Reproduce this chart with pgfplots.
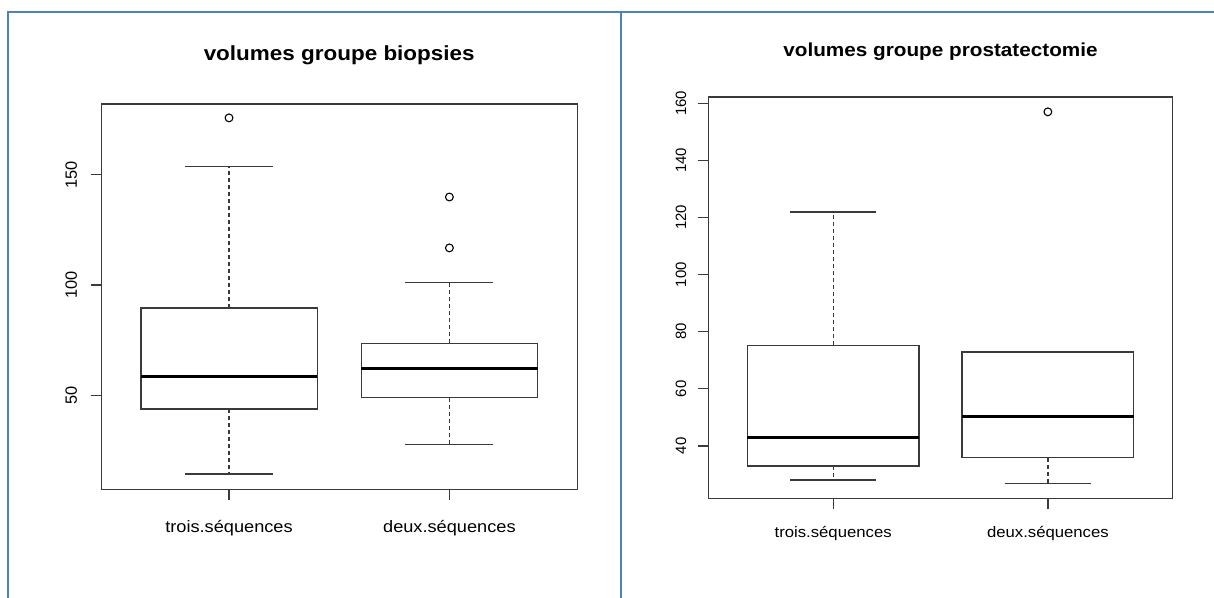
\documentclass[border=0pt]{standalone}
\usepackage{fontspec}
\setmainfont{Liberation Sans}[FakeStretch=1.1]
\newfontfamily\numfont{Liberation Sans}
\usepackage{pgfplots}
\pgfplotsset{compat=1.18}
\usepgfplotslibrary{statistics}
\definecolor{framblue}{HTML}{4F81BD}
\definecolor{lin}{HTML}{3A3A3A}
\pgfplotsset{
  rbox/.style={
    anchor=south west, scale only axis,
    xmin=0.42, xmax=2.58,
    xtick={1,2}, xticklabels={trois.séquences, deux.séquences},
    xtick pos=bottom, ytick pos=left,
    tick align=outside, major tick length=10.5bp,
    axis line style={lin, line width=1.3bp},
    every tick/.style={lin, line width=1.3bp},
    xticklabel style={anchor=north, inner sep=0pt},
    yticklabel style={rotate=90, anchor=south, inner sep=0pt},
    /pgf/number format/assume math mode=true,
    boxplot/draw direction=y,
    boxplot/box extend=0.8,
    boxplot/whisker extend=0.4,
    boxplot/every median/.style={line width=3bp, black},
    boxplot/draw/lower whisker/.code={
      \draw[dash pattern=on 4bp off 3bp] (boxplot box cs:\pgfplotsboxplotvalue{lower quartile},0.5) -- (boxplot box cs:\pgfplotsboxplotvalue{lower whisker},0.5);
      \draw (boxplot whisker cs:\pgfplotsboxplotvalue{lower whisker},0) -- (boxplot whisker cs:\pgfplotsboxplotvalue{lower whisker},1);
    },
    boxplot/draw/upper whisker/.code={
      \draw[dash pattern=on 4bp off 3bp] (boxplot box cs:\pgfplotsboxplotvalue{upper quartile},0.5) -- (boxplot box cs:\pgfplotsboxplotvalue{upper whisker},0.5);
      \draw (boxplot whisker cs:\pgfplotsboxplotvalue{upper whisker},0) -- (boxplot whisker cs:\pgfplotsboxplotvalue{upper whisker},1);
    },
    title style={anchor=base, at={(0.5,1)}},
  },
  rplot/.style={draw=lin, line width=1.3bp, solid, mark=o, mark size=3.9bp,
    mark options={line width=1.1bp, draw=black, solid}},
}
\begin{document}
\begin{tikzpicture}[x=1bp,y=1bp]
\useasboundingbox (0,0) rectangle (1214,598);
\fill[white] (0,0) rectangle (1214,598);
\draw[framblue, line width=2.2bp] (8,0) -- (8,586) -- (1214,586);
\draw[framblue, line width=2.2bp] (621,0) -- (621,586);

\begin{axis}[rbox,
  at={(101.2bp,108.7bp)}, width=476bp, height=385.3bp,
  ymin=7.3, ymax=182.1, ytick={50,100,150},
  xticklabel style={font=\fontsize{16.6}{18}\selectfont},
  yticklabel style={font=\numfont\fontsize{16.4}{18}\selectfont},
  xticklabel shift=20.5bp, yticklabel shift=13.5bp,
  title={volumes groupe biopsies},
  title style={font=\bfseries\fontsize{20.5}{24}\selectfont, yshift=37.5bp},
]
\addplot[rplot, boxplot prepared={draw position=1,
  lower whisker=14.2, lower quartile=43.7, median=58.3,
  upper quartile=89.6, upper whisker=153.7}]
  table[row sep=\\, y index=0] {data\\ 175.8\\};
\addplot[rplot, boxplot prepared={draw position=2,
  lower whisker=27.6, lower quartile=48.8, median=61.9,
  upper quartile=73.5, upper whisker=101.0}]
  table[row sep=\\, y index=0] {data\\ 139.9\\ 116.8\\};
\end{axis}

\begin{axis}[rbox,
  at={(708.6bp,99.3bp)}, width=463.8bp, height=401.7bp,
  ymin=21.5, ymax=162.2, ytick={40,60,80,100,120,140,160},
  xticklabel style={font=\fontsize{15.25}{17}\selectfont},
  yticklabel style={font=\numfont\fontsize{15}{17}\selectfont},
  xticklabel shift=17bp, yticklabel shift=11.7bp,
  title={volumes groupe prostatectomie},
  title style={font=\bfseries\fontsize{18.9}{22}\selectfont, yshift=35bp},
]
\addplot[rplot, boxplot prepared={draw position=1,
  lower whisker=28.0, lower quartile=33.0, median=42.9,
  upper quartile=75.2, upper whisker=121.9}]
  table[row sep=\\, y index=0] {data\\};
\addplot[rplot, boxplot prepared={draw position=2,
  lower whisker=26.9, lower quartile=35.9, median=50.3,
  upper quartile=72.9, upper whisker=72.9}]
  table[row sep=\\, y index=0] {data\\ 157.0\\};
\end{axis}
\end{tikzpicture}
\end{document}
